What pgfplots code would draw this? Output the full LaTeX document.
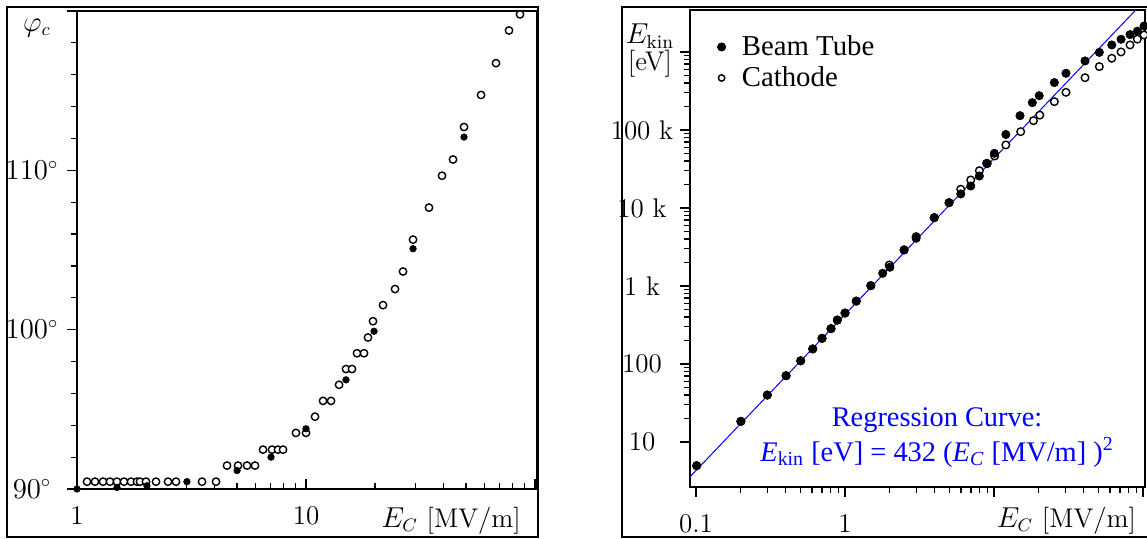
\documentclass[border=0pt]{standalone}
\usepackage{fontspec}
\usepackage{pgfplots}
\pgfplotsset{compat=1.18}
\newfontfamily\tms{Liberation Serif}

% series for the phase plot (left)
\pgfplotstableread{
x y
1.106 90.46
1.198 90.46
1.299 90.46
1.393 90.46
1.495 90.46
1.604 90.46
1.721 90.46
1.828 90.46
1.884 90.46
2.001 90.46
2.213 90.46
2.497 90.46
2.706 90.46
3.515 90.46
4.046 90.46
4.519 91.47
5.047 91.47
5.526 91.47
5.989 91.47
6.49 92.47
7.105 92.47
7.546 92.47
7.937 92.47
9.04 93.52
10.0 93.52
10.95 94.54
11.87 95.53
12.86 95.53
13.94 96.54
14.95 97.53
15.88 97.53
16.70 98.52
17.92 98.52
18.65 99.51
19.61 100.53
21.69 101.54
24.47 102.55
26.52 103.65
29.33 105.65
34.44 107.66
39.26 109.66
43.85 110.68
48.97 112.72
58.11 114.73
67.55 116.73
76.98 118.78
86.0 119.79
}\phiopen
\pgfplotstableread{
x y
1.0 90.0
1.495 90.1
2.02 90.2
3.02 90.46
5.0 91.16
7.035 92.0
10.0 93.78
14.95 96.85
19.82 99.9
29.33 105.08
48.97 112.09
}\phifull

% series for the energy plot (right)
\pgfplotstableread{
x y
0.101 4.97
0.2 18.4
0.301 40.0
0.402 70.8
0.504 110
0.607 156
0.701 213
0.805 284
0.888 366
1.0 450
1.19 640
1.49 1010
1.79 1456
2.0 1740
2.49 2900
3.0 4090
3.97 7520
4.99 11700
5.98 15140
6.98 19140
7.97 25700
8.93 37400
10.05 50200
12.0 87500
14.94 152500
18.07 224000
20.1 275000
25.4 405000
30.4 533000
40.8 767000
50.9 988000
61.7 1230000
71.2 1455000
81.8 1668000
91.6 1850000
101.6 2150000
}\beamtube
\pgfplotstableread{
x y
0.101 4.97
0.2 18.4
0.301 40.0
0.402 70.8
0.504 110
0.607 156
0.701 213
0.805 284
0.888 366
1.0 450
1.19 640
1.49 1010
1.98 1858
2.49 2900
3.0 4290
3.97 7520
4.99 11700
5.98 17390
6.98 22860
7.97 30050
9.0 37000
10.1 46400
12.0 64300
15.1 95100
18.4 131600
20.3 155000
25.4 230600
30.4 304000
40.8 468000
50.9 649000
61.7 830000
71.2 1000000
81.8 1230000
91.6 1460000
101.6 1650000
}\cathode

\pgfplotsset{
  fullpt/.style={only marks, mark=*, mark size=#1, mark options={draw=black, fill=black, line width=0.3pt}},
  openpt/.style={only marks, mark=*, mark size=#1, mark options={draw=black, fill=white, line width=0.7pt}},
  panel/.style={
    scale only axis, anchor=south west,
    axis line style={line width=0.8pt},
    tick style={black, line width=0.6pt},
    major tick length=5pt, minor tick length=3pt,
    xtick pos=bottom, ytick pos=left,
    ytick align=outside,
    ticklabel style={font=\fontsize{13.5}{16}\selectfont},
    label style={font=\fontsize{13.5}{16}\selectfont},
    xticklabel style={yshift=-5pt},
  },
}

\begin{document}
\begin{tikzpicture}
\useasboundingbox (0pt,0pt) rectangle (573.5pt,269pt);
\draw[line width=1.2pt] (3.5pt,0.5pt) rectangle (269pt,265.5pt);
\draw[line width=1.2pt] (574pt,0.5pt) -- (311pt,0.5pt) -- (311pt,265.5pt) -- (574pt,265.5pt);

\begin{axis}[panel,
  at={(38.5pt,24.5pt)}, width=230pt, height=239pt,
  xmode=log, xmin=1, xmax=102, ymin=90, ymax=120,
  xtick align=inside,
  xtick={1,10,100}, xticklabels={1,10,{}},
  ytick={90,100,110,120}, yticklabels={$90^\circ$,$100^\circ$,$110^\circ$,{}},
  minor y tick num=4,
  yticklabel style={anchor=center, xshift=-17.5pt},
  xlabel={$E_C$ [MV/m]},
  xlabel style={at={(axis description cs:0.98,-0.0795)}, anchor=base east},
  ylabel={$\varphi_c$},
  ylabel style={at={(axis description cs:-0.087,0.965)}, rotate=-90, anchor=center},
]
\addplot[openpt=1.85pt] table {\phiopen};
\addplot[fullpt=1.65pt] table {\phifull};
\end{axis}

\begin{axis}[panel,
  at={(345pt,25.5pt)}, width=227.5pt, height=238.5pt,
  xmode=log, ymode=log,
  xmin=0.0911, xmax=103.1, ymin=2.65, ymax=3.45e6,
  xtick align=outside,
  xtick={0.1,1,10,100}, xticklabels={0.1,1,{},{}},
  ytick={10,100,1000,10000,100000,1000000},
  yticklabels={10,100,1 k,10 k,100 k,{}},
  yticklabel style={anchor=center, xshift=-19pt},
  xlabel={$E_C$ [MV/m]},
  xlabel style={at={(axis description cs:0.9956,-0.0839)}, anchor=base east},
  ylabel={$E_{\mathrm{kin}}$\\{[eV]}},
  ylabel style={at={(axis description cs:-0.088,0.914)}, rotate=-90, anchor=center, align=center, font=\fontsize{13.5}{13.5}\selectfont},
  legend style={draw=none, fill=none, at={(axis description cs:0.055,0.96)}, anchor=north west,
    font=\tms\fontsize{14.4}{17}\selectfont, row sep=0pt, inner sep=1pt,
    /tikz/every odd column/.append style={column sep=6pt}},
  legend cell align=left,
]
\addplot[openpt=1.9pt, forget plot] table {\cathode};
\addplot[fullpt=2.1pt] table {\beamtube};
\addlegendentry{Beam Tube}
\addlegendimage{openpt=1.6pt}
\addlegendentry{Cathode}
\addplot[blue, line width=0.5pt, no marks] coordinates {(0.0911,3.585) (103.1,4.592e6)};
\node[blue, align=center, font=\tms\fontsize{14.2}{17.5}\selectfont] at (axis description cs:0.543,0.104)
  {Regression Curve:\\\textit{E}\textsubscript{kin} [eV] = 432 (\textit{E}\textsubscript{\textit{C}} [MV/m] )\textsuperscript{2}};
\end{axis}
\end{tikzpicture}
\end{document}
